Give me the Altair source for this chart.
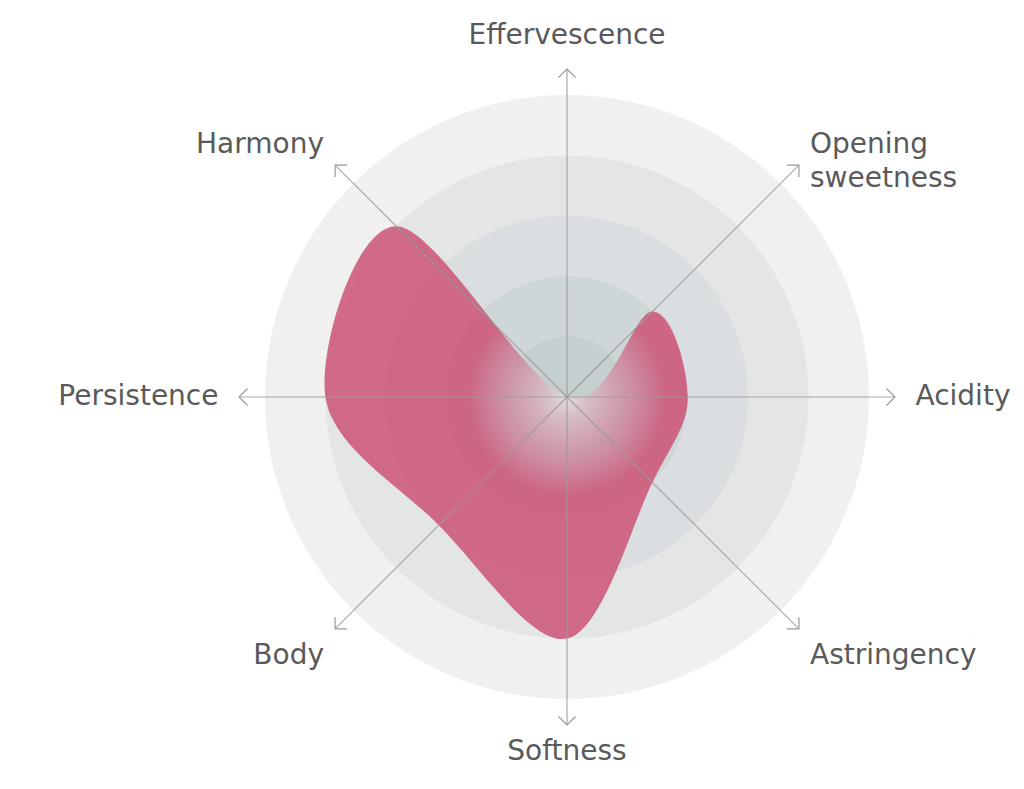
import altair as alt
import pandas as pd

# ---- data ----
categories = ["Effervescence", "Opening sweetness", "Acidity", "Astringency",
              "Softness", "Body", "Persistence", "Harmony"]
label_text = ["Effervescence", "Opening\nsweetness", "Acidity", "Astringency",
              "Softness", "Body", "Persistence", "Harmony"]
values = [0, 2, 2, 2, 4, 3, 4, 4]
levels = [5, 4, 3, 2, 1]

# ---- style ----
ring_colors = ["#f0f0f0", "#e4e5e5", "#dadee0", "#ced6d8", "#c6cfcf"]
PINK = "#cb4a6d"
AXIS_COL = "#9a9a9a"
TEXT_COL = "#5a5a5a"
FONT = "DejaVu Sans"

n = len(categories)
df = pd.DataFrame({"category": categories, "label": label_text,
                   "value": values, "idx": list(range(n))})
rings = pd.DataFrame({"level": levels, "color": ring_colors})

U = 60.4            # pixels per unit
W, H = 1008, 773
CX, CY = 559, 389
xs = alt.Scale(domain=[-CX / U, (W - CX) / U], nice=False, zero=False)
ys = alt.Scale(domain=[-(H - CY) / U, CY / U], nice=False, zero=False)
AXLEN = 5.43

base = alt.Chart(df).transform_calculate(
    a=f"datum.idx * 2 * PI / {n}",
    z="0",
)

rings_layer = alt.Chart(rings).transform_calculate(z="0").mark_arc().encode(
    x=alt.X("z:Q", scale=xs, axis=None),
    y=alt.Y("z:Q", scale=ys, axis=None),
    radius=alt.Radius("level:Q", stack=False,
                      scale=alt.Scale(type="linear", domain=[0, 5], range=[0, 5 * U])),
    color=alt.Color("color:N", scale=None),
)

grad = alt.Gradient(
    gradient="radial",
    stops=[alt.GradientStop(color="#ebe4e9", offset=0),
           alt.GradientStop(color="#dbbac6", offset=0.2),
           alt.GradientStop(color="#cd869f", offset=0.6),
           alt.GradientStop(color=PINK, offset=1)],
    x1=0.647, y1=0.4125, r1=0, x2=0.647, y2=0.4125, r2=0.24,
)

shape = base.transform_calculate(
    px="datum.value * sin(datum.a)",
    py="datum.value * cos(datum.a)",
).mark_line(interpolate="cardinal-closed", fill=grad, fillOpacity=0.8,
            strokeOpacity=0, strokeWidth=0).encode(
    x=alt.X("px:Q", scale=xs, axis=None),
    y=alt.Y("py:Q", scale=ys, axis=None),
    order=alt.Order("idx:Q"),
)

axes_layer = base.transform_calculate(
    ex=f"{AXLEN} * sin(datum.a)",
    ey=f"{AXLEN} * cos(datum.a)",
).mark_rule(color=AXIS_COL, strokeWidth=1.2, opacity=0.85).encode(
    x=alt.X("z:Q", scale=xs, axis=None),
    y=alt.Y("z:Q", scale=ys, axis=None),
    x2="ex:Q",
    y2="ey:Q",
)

arrows = base.transform_calculate(
    ex=f"{AXLEN} * sin(datum.a)",
    ey=f"{AXLEN} * cos(datum.a)",
    deg=f"datum.idx * 360 / {n}",
).mark_point(shape="M-1,1L0,0L1,1", filled=False, size=289,
             stroke=AXIS_COL, strokeWidth=1.2, opacity=1).encode(
    x=alt.X("ex:Q", scale=xs, axis=None),
    y=alt.Y("ey:Q", scale=ys, axis=None),
    angle=alt.Angle("deg:Q", scale=None),
)

lab = base.transform_calculate(
    diag="abs(sin(datum.a)) > 0.1 && abs(cos(datum.a)) > 0.1",
    lr="datum.diag ? 5.69 : 5.77",
    lx="datum.lr * sin(datum.a)",
    ly=("datum.lr * cos(datum.a)"
        " + (cos(datum.a) > 0.9 ? 0.2 : 0)"
        " + (cos(datum.a) > 0.1 && cos(datum.a) <= 0.9 ? 0.15 : 0)"
        " + (cos(datum.a) < -0.1 && cos(datum.a) >= -0.9 ? -0.27 : 0)"
        " + (cos(datum.a) < -0.9 ? -0.1 : 0)"),
    side="sin(datum.a) > 0.1 ? 'L' : (sin(datum.a) < -0.1 ? 'R' : 'C')",
)


def text_layer(side, align):
    return lab.transform_filter(f"datum.side == '{side}'").mark_text(
        align=align, baseline="middle", font=FONT, fontSize=28,
        color=TEXT_COL, lineBreak="\n", lineHeight=34,
    ).encode(
        x=alt.X("lx:Q", scale=xs, axis=None),
        y=alt.Y("ly:Q", scale=ys, axis=None),
        text="label:N",
    )


chart = alt.layer(
    rings_layer, shape, axes_layer, arrows,
    text_layer("L", "left"), text_layer("R", "right"), text_layer("C", "center"),
).properties(
    width=W, height=H,
    autosize=alt.AutoSizeParams(type="none"),
    padding=0,
    background="#ffffff",
).configure_view(stroke=None)

chart.save("out.html", embed_options={"renderer": "svg", "actions": False})
